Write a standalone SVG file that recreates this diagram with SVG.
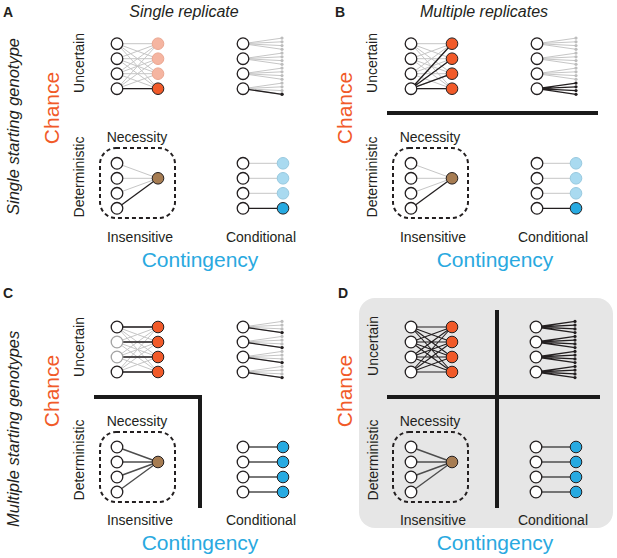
<svg xmlns="http://www.w3.org/2000/svg" width="617" height="558" viewBox="0 0 617 558">
<style>
text{font-family:"Liberation Sans",Arial,sans-serif;fill:#231f20}
.pl{font-size:14px;font-weight:bold}
.ti{font-size:16px;font-style:italic;text-anchor:middle}
.sg{font-size:16.5px;font-style:italic}
.ax{font-size:14px;text-anchor:middle}
.ch{font-size:21px;fill:#f15a29;text-anchor:middle}
.co{font-size:21px;fill:#29a9e0;text-anchor:middle}
.n{fill:#fff;stroke:#231f20;stroke-width:1.3}
.ng{fill:#fff;stroke:#a3a3a3;stroke-width:1.3}
.or{fill:#f15a29;stroke:#231f20;stroke-width:1}
.sa{fill:#f5b5a1;stroke:#eba690;stroke-width:1}
.br{fill:#a67c52;stroke:#231f20;stroke-width:1}
.lb{fill:#a9daf0;stroke:#98c9df;stroke-width:1}
.db{fill:#27aae1;stroke:#231f20;stroke-width:1}
.gl{stroke:#c6c6c6;stroke-width:1;fill:none}
.bl{stroke:#231f20;stroke-width:1.3;fill:none}
.dl{stroke:#4d4d4d;stroke-width:1.4;fill:none}
.gd{fill:#bdbdbd}
.bd{fill:#231f20}
.box{fill:none;stroke:#231f20;stroke-width:2;stroke-dasharray:4 3}
.thick{stroke:#1a1a1a;stroke-width:4;fill:none}
</style>
<defs>
<path id="bip" d="M0 0L41 0M0 0L41 15M0 0L41 30M0 0L41 45M0 15L41 0M0 15L41 15M0 15L41 30M0 15L41 45M0 30L41 0M0 30L41 15M0 30L41 30M0 30L41 45M0 45L41 0M0 45L41 15M0 45L41 30M0 45L41 45"/>
<path id="f0" d="M0 0L39 -5.6M0 0L39 -1.9M0 0L39 1.9M0 0L39 5.6"/>
<path id="f1" d="M0 15L39 9.4M0 15L39 13.1M0 15L39 16.9M0 15L39 20.6"/>
<path id="f2" d="M0 30L39 24.4M0 30L39 28.1M0 30L39 31.9M0 30L39 35.6"/>
<path id="f3" d="M0 45L39 39.4M0 45L39 43.1M0 45L39 46.9M0 45L39 50.6"/>
<g id="d0"><circle cx="39" cy="-5.6" r="1.6"/><circle cx="39" cy="-1.9" r="1.6"/><circle cx="39" cy="1.9" r="1.6"/><circle cx="39" cy="5.6" r="1.6"/></g>
<g id="d1"><circle cx="39" cy="9.4" r="1.6"/><circle cx="39" cy="13.1" r="1.6"/><circle cx="39" cy="16.9" r="1.6"/><circle cx="39" cy="20.6" r="1.6"/></g>
<g id="d2"><circle cx="39" cy="24.4" r="1.6"/><circle cx="39" cy="28.1" r="1.6"/><circle cx="39" cy="31.9" r="1.6"/><circle cx="39" cy="35.6" r="1.6"/></g>
<g id="d3"><circle cx="39" cy="39.4" r="1.6"/><circle cx="39" cy="43.1" r="1.6"/><circle cx="39" cy="46.9" r="1.6"/><circle cx="39" cy="50.6" r="1.6"/></g>
<g id="left4" class="n"><circle cx="0" cy="0" r="5.8"/><circle cx="0" cy="15" r="5.8"/><circle cx="0" cy="30" r="5.8"/><circle cx="0" cy="45" r="5.8"/></g>
</defs>

<!-- Panel D background -->
<rect id="D-bg" x="359" y="298" width="254" height="230" rx="16" fill="#e6e6e6"/>

<!-- Labels -->
<g id="labels">
<text class="pl" x="3" y="17">A</text>
<text class="pl" x="335" y="17">B</text>
<text class="pl" x="3" y="298">C</text>
<text class="pl" x="338" y="298">D</text>
<text class="ti" x="184" y="17">Single replicate</text>
<text class="ti" x="484" y="17">Multiple replicates</text>
<text class="sg" transform="translate(19,215) rotate(-90)">Single starting genotype</text>
<text class="sg" transform="translate(19,527) rotate(-90)">Multiple starting genotypes</text>
<text class="ch" transform="translate(59,108) rotate(-90)">Chance</text>
<text class="ch" transform="translate(352,108) rotate(-90)">Chance</text>
<text class="ch" transform="translate(59,391) rotate(-90)">Chance</text>
<text class="ch" transform="translate(352,391) rotate(-90)">Chance</text>
<text class="ax" transform="translate(84,63) rotate(-90)">Uncertain</text>
<text class="ax" transform="translate(377,63) rotate(-90)">Uncertain</text>
<text class="ax" transform="translate(84,347) rotate(-90)">Uncertain</text>
<text class="ax" transform="translate(378,346) rotate(-90)">Uncertain</text>
<text class="ax" transform="translate(84,177) rotate(-90)">Deterministic</text>
<text class="ax" transform="translate(377,177) rotate(-90)">Deterministic</text>
<text class="ax" transform="translate(84,460) rotate(-90)">Deterministic</text>
<text class="ax" transform="translate(378,460) rotate(-90)">Deterministic</text>
<text class="ax" x="137" y="141.5">Necessity</text>
<text class="ax" x="430" y="141.5">Necessity</text>
<text class="ax" x="137" y="426">Necessity</text>
<text class="ax" x="430" y="426">Necessity</text>
<text class="ax" x="140" y="241.5">Insensitive</text>
<text class="ax" x="433" y="241.5">Insensitive</text>
<text class="ax" x="140" y="525">Insensitive</text>
<text class="ax" x="433" y="525">Insensitive</text>
<text class="ax" x="261" y="241.5">Conditional</text>
<text class="ax" x="553" y="241.5">Conditional</text>
<text class="ax" x="261" y="525">Conditional</text>
<text class="ax" x="553" y="525">Conditional</text>
<text class="co" x="200" y="267">Contingency</text>
<text class="co" x="495" y="267">Contingency</text>
<text class="co" x="200" y="550">Contingency</text>
<text class="co" x="495" y="550">Contingency</text>
</g>

<!-- Dividers -->
<g id="dividers">
<path class="thick" d="M387 113H598"/>
<path class="thick" d="M94 397H200V508"/>
<path class="thick" d="M387 397H600M497 310V508"/>
</g>

<!-- Necessity boxes -->
<g id="boxes">
<rect class="box" x="100" y="148" width="75" height="70" rx="16"/>
<rect class="box" x="393" y="148" width="75" height="70" rx="16"/>
<rect class="box" x="100" y="432" width="75" height="70" rx="16"/>
<rect class="box" x="393" y="432" width="75" height="70" rx="16"/>
</g>

<!-- Panel A -->
<g id="A-uncertain-single" transform="translate(117,43.7)">
<g id="A-uncertain-single-connectors"><use href="#bip" class="gl"/><path class="bl" d="M0 45L41 45"/></g>
<use href="#left4"/>
<circle class="sa" cx="41" cy="0" r="5.8"/><circle class="sa" cx="41" cy="15" r="5.8"/><circle class="sa" cx="41" cy="30" r="5.8"/><circle class="or" cx="41" cy="45" r="5.8"/>
</g>
<g id="A-uncertain-fan" transform="translate(243,43.7)">
<g id="A-uncertain-fan-connectors"><use href="#f0" class="gl"/><use href="#f1" class="gl"/><use href="#f2" class="gl"/><use href="#f3" class="gl"/><path class="bl" d="M0 45L39 50.6"/></g>
<g class="gd"><use href="#d0"/><use href="#d1"/><use href="#d2"/><use href="#d3"/></g>
<circle class="bd" cx="39" cy="50.6" r="1.7"/>
<use href="#left4"/>
</g>
<g id="A-insensitive" transform="translate(117,163.3)">
<g id="A-insensitive-connectors"><path class="gl" d="M0 0L41 15M0 15L41 15M0 30L41 15"/><path class="bl" d="M0 45L41 15"/></g>
<use href="#left4"/>
<circle class="br" cx="41" cy="15" r="5.8"/>
</g>
<g id="A-conditional" transform="translate(243,163.3)">
<g id="A-conditional-connectors"><path class="gl" d="M0 0H40M0 15H40M0 30H40"/><path class="bl" d="M0 45H40"/></g>
<use href="#left4"/>
<circle class="lb" cx="40" cy="0" r="5.8"/><circle class="lb" cx="40" cy="15" r="5.8"/><circle class="lb" cx="40" cy="30" r="5.8"/><circle class="db" cx="40" cy="45" r="5.8"/>
</g>

<!-- Panel B -->
<g id="B-uncertain-single" transform="translate(411,43.7)">
<g id="B-uncertain-single-connectors"><use href="#bip" class="gl"/><path class="bl" d="M0 45L41 0M0 45L41 15M0 45L41 30M0 45L41 45"/></g>
<use href="#left4"/>
<circle class="or" cx="41" cy="0" r="5.8"/><circle class="or" cx="41" cy="15" r="5.8"/><circle class="or" cx="41" cy="30" r="5.8"/><circle class="or" cx="41" cy="45" r="5.8"/>
</g>
<g id="B-uncertain-fan" transform="translate(537,43.7)">
<g id="B-uncertain-fan-connectors"><use href="#f0" class="gl"/><use href="#f1" class="gl"/><use href="#f2" class="gl"/><use href="#f3" class="bl"/></g>
<g class="gd"><use href="#d0"/><use href="#d1"/><use href="#d2"/></g>
<g class="bd"><use href="#d3"/></g>
<use href="#left4"/>
</g>
<g id="B-insensitive" transform="translate(411,163.3)">
<g id="B-insensitive-connectors"><path class="gl" d="M0 0L41 15M0 15L41 15M0 30L41 15"/><path class="bl" d="M0 45L41 15"/></g>
<use href="#left4"/>
<circle class="br" cx="41" cy="15" r="5.8"/>
</g>
<g id="B-conditional" transform="translate(537,163.3)">
<g id="B-conditional-connectors"><path class="gl" d="M0 0H39M0 15H39M0 30H39"/><path class="bl" d="M0 45H39"/></g>
<use href="#left4"/>
<circle class="lb" cx="39" cy="0" r="5.8"/><circle class="lb" cx="39" cy="15" r="5.8"/><circle class="lb" cx="39" cy="30" r="5.8"/><circle class="db" cx="39" cy="45" r="5.8"/>
</g>

<!-- Panel C -->
<g id="C-uncertain-single" transform="translate(117,327)">
<g id="C-uncertain-single-connectors"><use href="#bip" class="gl"/><path class="bl" d="M0 0H41M0 15H41M0 30H41M0 45H41"/></g>
<circle class="n" cx="0" cy="0" r="5.8"/><circle class="ng" cx="0" cy="15" r="5.8"/><circle class="ng" cx="0" cy="30" r="5.8"/><circle class="n" cx="0" cy="45" r="5.8"/>
<circle class="or" cx="41" cy="0" r="5.8"/><circle class="or" cx="41" cy="15" r="5.8"/><circle class="or" cx="41" cy="30" r="5.8"/><circle class="or" cx="41" cy="45" r="5.8"/>
</g>
<g id="C-uncertain-fan" transform="translate(243,327)">
<g id="C-uncertain-fan-connectors"><use href="#f0" class="gl"/><use href="#f1" class="gl"/><use href="#f2" class="gl"/><use href="#f3" class="gl"/><path class="bl" d="M0 0L39 5.6M0 15L39 20.6M0 30L39 35.6M0 45L39 50.6"/></g>
<g class="gd"><use href="#d0"/><use href="#d1"/><use href="#d2"/><use href="#d3"/></g>
<g class="bd"><circle cx="39" cy="5.6" r="1.7"/><circle cx="39" cy="20.6" r="1.7"/><circle cx="39" cy="35.6" r="1.7"/><circle cx="39" cy="50.6" r="1.7"/></g>
<use href="#left4"/>
</g>
<g id="C-insensitive" transform="translate(117,447)">
<g id="C-insensitive-connectors"><path class="dl" d="M0 0L41 15M0 15L41 15M0 30L41 15M0 45L41 15"/></g>
<use href="#left4"/>
<circle class="br" cx="41" cy="15" r="5.8"/>
</g>
<g id="C-conditional" transform="translate(243,447)">
<g id="C-conditional-connectors"><path class="dl" d="M0 0H40M0 15H40M0 30H40M0 45H40"/></g>
<use href="#left4"/>
<circle class="db" cx="40" cy="0" r="5.8"/><circle class="db" cx="40" cy="15" r="5.8"/><circle class="db" cx="40" cy="30" r="5.8"/><circle class="db" cx="40" cy="45" r="5.8"/>
</g>

<!-- Panel D -->
<g id="D-uncertain-single" transform="translate(411,327)">
<g id="D-uncertain-single-connectors"><use href="#bip" class="bl" style="stroke-width:1.1"/></g>
<use href="#left4"/>
<circle class="or" cx="41" cy="0" r="5.8"/><circle class="or" cx="41" cy="15" r="5.8"/><circle class="or" cx="41" cy="30" r="5.8"/><circle class="or" cx="41" cy="45" r="5.8"/>
</g>
<g id="D-uncertain-fan" transform="translate(536,327)">
<g id="D-uncertain-fan-connectors"><use href="#f0" class="bl"/><use href="#f1" class="bl"/><use href="#f2" class="bl"/><use href="#f3" class="bl"/></g>
<g class="bd"><use href="#d0"/><use href="#d1"/><use href="#d2"/><use href="#d3"/></g>
<use href="#left4"/>
</g>
<g id="D-insensitive" transform="translate(411,447)">
<g id="D-insensitive-connectors"><path class="dl" d="M0 0L41 15M0 15L41 15M0 30L41 15M0 45L41 15"/></g>
<use href="#left4"/>
<circle class="br" cx="41" cy="15" r="5.8"/>
</g>
<g id="D-conditional" transform="translate(536,447)">
<g id="D-conditional-connectors"><path class="dl" d="M0 0H40M0 15H40M0 30H40M0 45H40"/></g>
<use href="#left4"/>
<circle class="db" cx="40" cy="0" r="5.8"/><circle class="db" cx="40" cy="15" r="5.8"/><circle class="db" cx="40" cy="30" r="5.8"/><circle class="db" cx="40" cy="45" r="5.8"/>
</g>
</svg>
